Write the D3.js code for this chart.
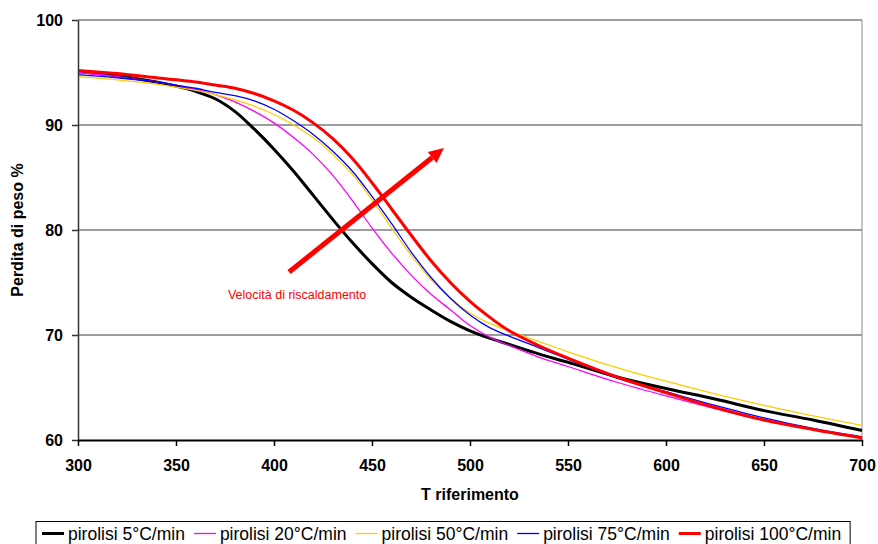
<!DOCTYPE html>
<meta charset="utf-8">
<style>
	body { margin: 0; background: #fff; }
	text { font-family: "Liberation Sans", Arial, sans-serif; }
	.tick text { font-size: 16px; font-weight: bold; fill: #000; }
	.axis-title { font-size: 16px; font-weight: bold; }
	.legend text { font-size: 17.5px; }
</style>
<body>
<div id="chart"></div>
<script src="https://cdnjs.cloudflare.com/ajax/libs/d3/7.8.5/d3.min.js"></script>
<script>

	// temperatures (x) shared by all series
	const temps = [300, 320, 340, 350, 360, 370, 380, 390, 400, 410, 420, 430, 440, 450, 460, 470, 480, 490, 500, 510, 520, 535, 550, 575, 600, 625, 650, 675, 700];

	// weight loss % per heating rate
	const rate5 = [95.1, 94.7, 94.1, 93.7, 93.2, 92.5, 91.3, 89.6, 87.7, 85.6, 83.3, 81.0, 78.8, 76.8, 75.0, 73.6, 72.4, 71.3, 70.4, 69.7, 69.1, 68.2, 67.4, 66.0, 64.9, 63.9, 62.8, 61.9, 60.9];
	const rate20 = [95.0, 94.6, 94.1, 93.8, 93.4, 92.9, 92.2, 91.3, 90.2, 88.8, 87.2, 85.2, 82.8, 80.2, 77.8, 75.7, 73.9, 72.4, 70.9, 69.8, 69.0, 67.9, 67.0, 65.5, 64.2, 63.0, 61.9, 61.0, 60.2];
	const rate50 = [94.6, 94.3, 93.9, 93.6, 93.3, 92.9, 92.4, 91.8, 91.0, 90.0, 88.8, 87.2, 85.3, 82.9, 80.2, 77.6, 75.3, 73.5, 72.1, 71.1, 70.4, 69.4, 68.4, 66.9, 65.6, 64.4, 63.3, 62.3, 61.4];
	const rate75 = [94.8, 94.5, 94.1, 93.8, 93.5, 93.1, 92.8, 92.3, 91.5, 90.4, 89.1, 87.5, 85.6, 83.2, 80.6, 77.9, 75.5, 73.5, 71.9, 70.7, 69.9, 68.8, 67.7, 65.9, 64.6, 63.3, 62.1, 61.1, 60.3];
	const rate100 = [95.2, 94.9, 94.5, 94.3, 94.1, 93.8, 93.5, 93.0, 92.3, 91.4, 90.2, 88.7, 86.8, 84.5, 82.0, 79.5, 77.1, 75.0, 73.2, 71.7, 70.4, 69.0, 67.8, 66.0, 64.5, 63.1, 61.9, 61.0, 60.2];

	const seriesNames = ["pirolisi 5°C/min", "pirolisi 20°C/min", "pirolisi 50°C/min", "pirolisi 75°C/min", "pirolisi 100°C/min"];
	const seriesColors = ["#000000", "#ff00ff", "#ffcc00", "#0000ff", "#ff0000"];
	const seriesWidths = [3, 1.3, 1.3, 1.3, 3];

	const xTicks = [300, 350, 400, 450, 500, 550, 600, 650, 700];
	const yTicks = [60, 70, 80, 90, 100];

	// annotation arrow (data coords) and label
	const arrowFrom = [407.7, 76.0];
	const arrowTo = [486.7, 87.8];
	const noteLabel = "Velocità di riscaldamento";
	const notePos = [376.5, 73.4];

	const width = 878;
	const height = 544;
	const plot = { left: 78, right: 862, top: 20, bottom: 440 };

	const svg = d3.select("#chart").append("svg")
		.attr("width", width)
		.attr("height", height);

	const x = d3.scaleLinear().domain([300, 700]).range([plot.left, plot.right]);
	const y = d3.scaleLinear().domain([60, 100]).range([plot.bottom, plot.top]);

	// gridlines
	svg.append("g")
		.selectAll("line")
		.data(yTicks.filter(d => d > 60))
		.enter().append("line")
		.attr("x1", plot.left).attr("x2", plot.right)
		.attr("y1", d => y(d)).attr("y2", d => y(d))
		.attr("stroke", "#3a3a3a")
		.attr("stroke-width", 1.2);

	// right border of plot area
	svg.append("line")
		.attr("x1", plot.right).attr("x2", plot.right)
		.attr("y1", plot.top).attr("y2", plot.bottom)
		.attr("stroke", "#8c8c8c").attr("stroke-width", 1);

	// series
	const data = [rate5, rate20, rate50, rate75, rate100].map((vals, i) => ({
		name: seriesNames[i],
		color: seriesColors[i],
		w: seriesWidths[i],
		values: temps.map((t, j) => ({ t: t, v: vals[j] }))
	}));

	const line = d3.line()
		.x(d => x(d.t))
		.y(d => y(d.v))
		.curve(d3.curveCatmullRom.alpha(0.5));

	svg.append("g")
		.selectAll("path")
		.data(data)
		.enter().append("path")
		.attr("d", d => line(d.values))
		.attr("fill", "none")
		.attr("stroke", d => d.color)
		.attr("stroke-width", d => d.w);

	// axes
	const yAxis = svg.append("g")
		.attr("transform", `translate(${plot.left},0)`)
		.call(d3.axisLeft(y).tickValues(yTicks).tickSize(6).tickPadding(9).tickSizeOuter(0));
	yAxis.select(".domain").attr("stroke", "#333").attr("stroke-width", 1.5);
	yAxis.selectAll(".tick line").attr("stroke", "#333").attr("stroke-width", 1.5);
	yAxis.selectAll("text").attr("font-family", null).attr("font-size", null);

	const xAxis = svg.append("g")
		.attr("transform", `translate(0,${plot.bottom})`)
		.call(d3.axisBottom(x).tickValues(xTicks).tickSize(6).tickPadding(14).tickSizeOuter(0));
	xAxis.select(".domain").attr("stroke", "#000").attr("stroke-width", 2);
	xAxis.selectAll(".tick line").attr("stroke", "#000").attr("stroke-width", 1.5);
	xAxis.selectAll("text").attr("font-family", null).attr("font-size", null);

	// axis titles
	svg.append("text")
		.attr("class", "axis-title")
		.attr("x", (plot.left + plot.right) / 2)
		.attr("y", 500)
		.attr("text-anchor", "middle")
		.text("T riferimento");

	svg.append("text")
		.attr("class", "axis-title")
		.attr("transform", `translate(23,${(plot.top + plot.bottom) / 2}) rotate(-90)`)
		.attr("text-anchor", "middle")
		.text("Perdita di peso %");

	// arrow
	const ax1 = x(arrowFrom[0]), ay1 = y(arrowFrom[1]);
	const ax2 = x(arrowTo[0]), ay2 = y(arrowTo[1]);
	const ang = Math.atan2(ay2 - ay1, ax2 - ax1);
	const headLen = 15, headHalf = 7;
	const bx = ax2 - headLen * Math.cos(ang), by = ay2 - headLen * Math.sin(ang);
	svg.append("line")
		.attr("x1", ax1).attr("y1", ay1)
		.attr("x2", bx).attr("y2", by)
		.attr("stroke", "#ff0000").attr("stroke-width", 5);
	svg.append("polygon")
		.attr("points", [
			[ax2, ay2],
			[bx + headHalf * Math.sin(ang), by - headHalf * Math.cos(ang)],
			[bx - headHalf * Math.sin(ang), by + headHalf * Math.cos(ang)]
		].map(p => p.join(",")).join(" "))
		.attr("fill", "#ff0000");

	svg.append("text")
		.attr("x", x(notePos[0]))
		.attr("y", y(notePos[1]))
		.attr("fill", "#ff0000")
		.attr("font-size", 12.5)
		.text(noteLabel);

	// legend
	const legend = svg.append("g").attr("class", "legend");
	const legRect = legend.append("rect")
		.attr("x", 36).attr("y", 521.5)
		.attr("height", 40)
		.attr("fill", "#fff")
		.attr("stroke", "#000").attr("stroke-width", 1);

	let lx = 42;
	data.forEach(d => {
		legend.append("line")
			.attr("x1", lx).attr("x2", lx + 22)
			.attr("y1", 533.5).attr("y2", 533.5)
			.attr("stroke", d.color)
			.attr("stroke-width", d.w);
		const t = legend.append("text")
			.attr("x", lx + 26)
			.attr("y", 539.5)
			.text(d.name);
		lx += 26 + t.node().getComputedTextLength() + 9;
	});
	legRect.attr("width", lx - 36);

</script>
</body>
